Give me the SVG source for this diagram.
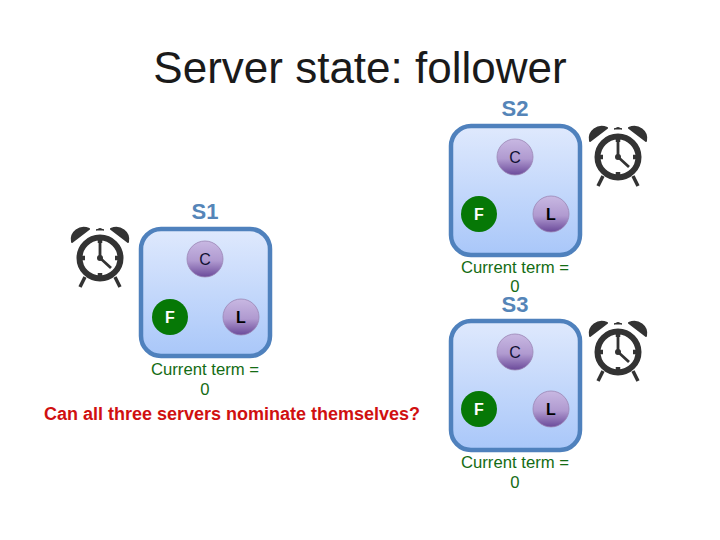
<svg xmlns="http://www.w3.org/2000/svg" xmlns:xlink="http://www.w3.org/1999/xlink" width="720" height="540" viewBox="0 0 720 540">
<style>
text{font-family:"Liberation Sans",Arial,sans-serif;text-anchor:middle}
.title{font-size:44px;fill:#1a1a1a}
.srv{font-size:22px;font-weight:bold;fill:#5585b8}
.box{fill:url(#bg);stroke:#4f81bd;stroke-width:4.5}
.pc{fill:url(#pg);stroke:#9a86b5;stroke-width:.8}
.fc{fill:#067806}
.lt{font-size:16px;fill:#111133}
.lb{font-size:16px;font-weight:bold;fill:#000}
.fl{font-size:16px;font-weight:bold;fill:#fff}
.term{font-size:16.7px;fill:#146c14}
.q{font-size:18px;font-weight:bold;fill:#d01010}
</style>
<defs>
<linearGradient id="bg" x1="0" y1="0" x2="0" y2="1"><stop offset="0" stop-color="#dfe9fd"/><stop offset="1" stop-color="#a9c7f9"/></linearGradient>
<linearGradient id="pg" x1="0" y1="0" x2="0" y2="1"><stop offset="0" stop-color="#c8b8e2"/><stop offset=".55" stop-color="#b09ad0"/><stop offset="1" stop-color="#6b4a9a"/></linearGradient>
<g id="clock">
<circle r="20.5" fill="#fff" stroke="#333" stroke-width="6"/>
<path d="M-28-16C-30-26-20-33-11-29Z M28-16C30-26 20-33 11-29Z" fill="#333" stroke="#333" stroke-width="2" stroke-linejoin="round"/>
<path d="M-4-28Q0-31 4-28Z" fill="#333" stroke="#333"/>
<path d="M-15 19L-20 29M15 19L20 29" stroke="#333" stroke-width="3.500" fill="none"/>
<path d="M0-20V-15M0 20V15M-20 0H-15M20 0H15" stroke="#333" stroke-width="4.500" fill="none"/>
<path d="M0-17V0L11 10" stroke="#333" stroke-width="2.800" fill="none"/>
<circle r="3" fill="#333"/>
</g>
</defs>
<text class="title" x="360" y="83">Server state: follower</text>
<g id="connectors"/>
<g id="S1">
<text class="srv" x="205" y="219">S1</text>
<rect class="box" x="141" y="229" width="129" height="127" rx="20"/>
<circle class="pc" cx="205" cy="259" r="18"/><text class="lt" x="205" y="265">C</text>
<circle class="fc" cx="170" cy="317" r="18"/><text class="fl" x="170" y="323">F</text>
<circle class="pc" cx="241" cy="317" r="18"/><text class="lb" x="241" y="323">L</text>
<use xlink:href="#clock" href="#clock" x="100" y="258"/>
<text class="term" x="205" y="375">Current term =</text>
<text class="term" x="205" y="395">0</text>
</g>
<g id="S2">
<text class="srv" x="515" y="116">S2</text>
<rect class="box" x="451" y="126" width="129" height="129" rx="20"/>
<circle class="pc" cx="515" cy="157" r="18"/><text class="lt" x="515" y="163">C</text>
<circle class="fc" cx="479" cy="214" r="18"/><text class="fl" x="479" y="220">F</text>
<circle class="pc" cx="551" cy="214" r="18"/><text class="lb" x="551" y="220">L</text>
<use xlink:href="#clock" href="#clock" x="618" y="157"/>
<text class="term" x="515" y="273">Current term =</text>
<text class="term" x="515" y="292">0</text>
</g>
<g id="S3">
<text class="srv" x="515" y="312">S3</text>
<rect class="box" x="451" y="321" width="129" height="129" rx="20"/>
<circle class="pc" cx="515" cy="352" r="18"/><text class="lt" x="515" y="358">C</text>
<circle class="fc" cx="479" cy="409" r="18"/><text class="fl" x="479" y="415">F</text>
<circle class="pc" cx="551" cy="409" r="18"/><text class="lb" x="551" y="415">L</text>
<use xlink:href="#clock" href="#clock" x="618" y="352"/>
<text class="term" x="515" y="468">Current term =</text>
<text class="term" x="515" y="488">0</text>
</g>
<text class="q" x="232" y="420">Can all three servers nominate themselves?</text>
</svg>
